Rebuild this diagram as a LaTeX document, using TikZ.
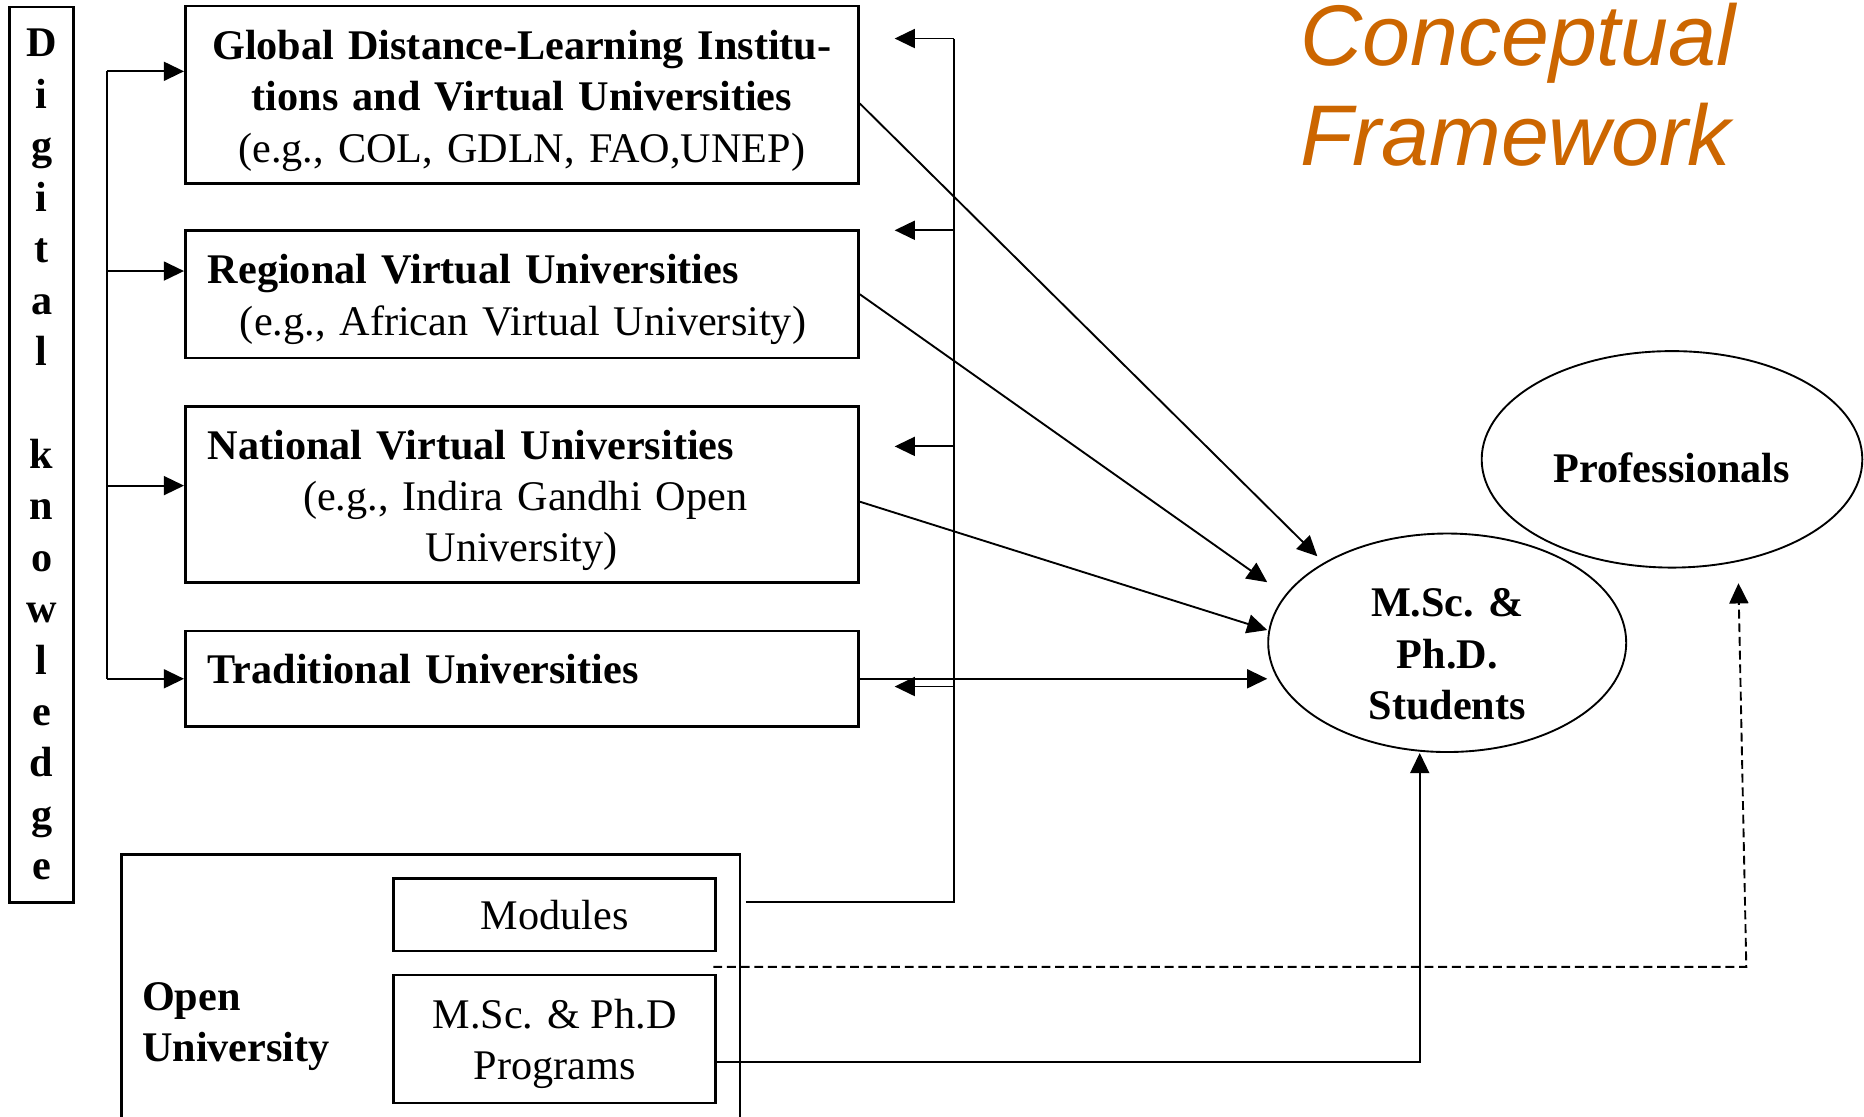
\documentclass[tikz,border=0pt]{standalone}
\usepackage{fontspec}
\setmainfont{Liberation Serif}
\newfontfamily\titlefont{Liberation Sans}
\usepackage{xcolor}
\usetikzlibrary{arrows.meta,shapes.geometric,positioning}
\definecolor{frameorange}{RGB}{204,102,0}
\newcommand{\bodysize}{\fontsize{10.1}{12.3}\selectfont}

\begin{document}
\begin{tikzpicture}[x=0.01cm, y=-0.01cm,
    box/.style={draw, line width=0.6pt, inner sep=0pt, inner xsep=0.19cm, text width=5.28cm, font=\bodysize},
    smallbox/.style={draw, line width=0.6pt, inner sep=0pt, minimum width=2.71cm, align=center, font=\bodysize},
    oval/.style={draw, ellipse, line width=0.45pt, inner sep=0pt, align=center, font=\bodysize\bfseries},
    link/.style={line width=0.45pt},
    arr/.style={link, -{Triangle[length=0.17cm, width=0.16cm]}}]
    \useasboundingbox (0,0) rectangle (1568,939.6);
    \clip (0,0) rectangle (1568,939.6);

    % Draw the title
    \node[font=\titlefont\itshape\fontsize{20.6}{23.9}\selectfont, text=frameorange, align=left, inner sep=0pt, anchor=west] (title) at (1093,71.4) {Conceptual\\Framework};

    % Draw the digital knowledge column
    \node[draw, line width=0.6pt, minimum width=0.54cm, minimum height=7.53cm, inner sep=0pt, align=center, font=\bodysize\bfseries] (digital) at (35,382.5) {D\\i\\g\\i\\t\\a\\l\\[12.3pt]k\\n\\o\\w\\l\\e\\d\\g\\e};

    % Draw the institution boxes
    \node[box, align=center, minimum height=1.49cm] (global) at (439,79.6) {\rule{0pt}{0.345cm}\textbf{Global Distance-Learning Institu-}\\\textbf{tions and Virtual Universities}\\(e.g., COL, GDLN, FAO,UNEP)};
    \node[box, align=left, minimum height=1.075cm] (regional) at (439,247.5) {\rule{0pt}{0.335cm}\textbf{Regional Virtual Universities}\\\hspace*{0.27cm}(e.g., African Virtual University)};
    \node[box, align=left, minimum height=1.48cm] (national) at (439,416) {\rule{0pt}{0.345cm}\textbf{National Virtual Universities}\\\hspace*{0.80cm}(e.g., Indira Gandhi Open\\\hspace*{1.83cm}University)};
    \node[box, align=left, minimum height=0.805cm, text depth=0.17cm] (trad) at (439,571) {\textbf{Traditional Universities}};

    % Draw the open university
    \node[draw, line width=0.6pt, minimum width=5.20cm, minimum height=2.82cm, inner sep=0pt] (openuni) at (362.5,860) {};
    \node[font=\bodysize\bfseries, align=left, inner sep=0pt, right=0.175cm of openuni.west, yshift=-0.035cm] (oulabel) {Open\\University};
    \node[smallbox, minimum height=0.61cm] (modules) at (466.5,769.5) {Modules};
    \node[smallbox, minimum height=1.08cm] (programs) at (466.5,874) {\rule{0pt}{0.325cm}M.Sc. \& Ph.D\\Programs};

    % Draw the ellipses
    \node[oval, minimum width=3.01cm, minimum height=1.81cm] (students) at (1217.4,540.7) {\rule{0pt}{0.43cm}M.Sc. \&\\Ph.D.\\Students};
    \node[oval, minimum width=3.20cm, minimum height=1.82cm, text height=0.40cm] (professionals) at (1406.5,386.4) {Professionals};

    % Draw the left bus
    \foreach \inst/\y in {global/60, regional/228, national/408.5, trad/571}{
        \coordinate (in-\inst) at (90,\y);
        \draw[arr] (in-\inst) -- (in-\inst -| \inst.west);
    }
    \draw[link] (in-global) -- (in-trad);

    % Draw the right bus
    \coordinate (fb-top) at (802.6,32.4);
    \coordinate (fb-bot) at (802.6,759);
    \coordinate (fb-start) at (627.5,759);
    \draw[link] (fb-start) -- (fb-bot) -- (fb-top);
    \foreach \y [count=\i] in {32.4, 193.7, 375.5, 577.5}{
        \coordinate (fb-\i) at (802.6,\y);
        \coordinate (fb-tip-\i) at (752.6,\y);
        \draw[arr] (fb-\i) -- (fb-tip-\i);
    }

    % Draw the arrows to the students
    \draw[arr, shorten >=0.076cm] ([yshift=-0.074cm]global.east) -- (students.147);
    \draw[arr] (regional.east) -- ([yshift=0.509cm]students.west);
    \draw[arr] ([yshift=-0.06cm]national.east) -- ([yshift=0.107cm]students.west);
    \draw[arr] (trad.east) -- (trad.east -| students.west);

    \coordinate (prog-out) at ([yshift=-0.195cm]programs.east);
    \draw[arr] (prog-out) -| ([xshift=-0.231cm]students.south);

    % Draw the dashed path to the professionals
    \coordinate (dash-start) at (600,813.3);
    \coordinate (dash-turn) at (1469,813.3);
    \coordinate (prof-in) at (1462.4,490.6);
    \draw[arr, dash pattern=on 0.075cm off 0.04cm] (dash-start) -- (dash-turn) -- (prof-in);
\end{tikzpicture}
\end{document}
